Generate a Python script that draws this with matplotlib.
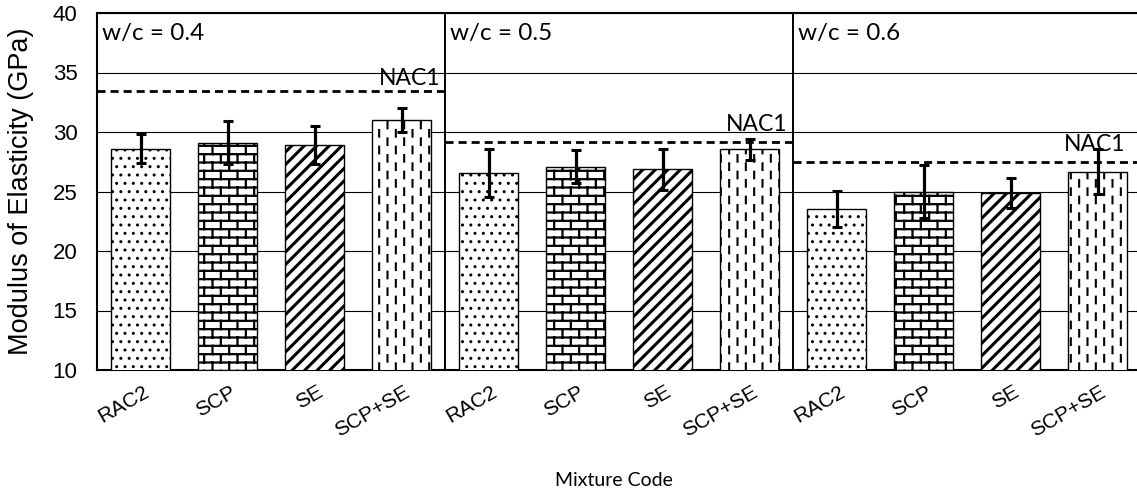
import warnings
import numpy as np
import matplotlib
matplotlib.use("Agg")
import matplotlib.pyplot as plt
from matplotlib import hatch as mhatch
from matplotlib.path import Path
from matplotlib.transforms import ScaledTranslation

warnings.filterwarnings("ignore")

# data
groups = ["w/c = 0.4", "w/c = 0.5", "w/c = 0.6"]
mixes = ["RAC2", "SCP", "SE", "SCP+SE"]
moe = {
    "RAC2":   [28.6, 26.55, 23.55],
    "SCP":    [29.1, 27.1, 25.0],
    "SE":     [28.9, 26.85, 24.85],
    "SCP+SE": [31.0, 28.55, 26.65],
}
moe_err = {
    "RAC2":   [1.2, 2.0, 1.5],
    "SCP":    [1.8, 1.4, 2.25],
    "SE":     [1.6, 1.7, 1.25],
    "SCP+SE": [1.0, 0.9, 1.9],
}
nac1 = [33.45, 29.2, 27.45]


# extra hatch patterns: bricks (B), diagonal stripes (S), dashed verticals (D)
class BrickHatch(mhatch.HatchPatternBase):
    def __init__(self, hatch, density):
        self.rows = 12 if "B" in hatch else 0
        self.cols = 6
        if self.rows:
            self.num_vertices = self.rows * 2 + (self.rows + 1) * self.cols * 2
        else:
            self.num_vertices = 0

    def set_vertices_and_codes(self, vertices, codes):
        k = 0
        h = 1.0 / self.rows
        for i in range(self.rows):
            y = (i + 0.5) * h
            vertices[k] = (0, y)
            vertices[k + 1] = (1, y)
            k += 2
        for i in range(-1, self.rows):
            y = (i + 0.5) * h
            off = 0.75 if i % 2 else 0.25
            for j in range(self.cols):
                x = (j + off) / self.cols
                vertices[k] = (x, y)
                vertices[k + 1] = (x, y + h)
                k += 2
        codes[0::2] = Path.MOVETO
        codes[1::2] = Path.LINETO


class StripeHatch(mhatch.HatchPatternBase):
    def __init__(self, hatch, density):
        self.num_lines = 16 if "S" in hatch else 0
        self.num_vertices = (self.num_lines + 1) * 2 if self.num_lines else 0

    def set_vertices_and_codes(self, vertices, codes):
        steps = np.linspace(-0.5, 0.5, self.num_lines + 1)
        vertices[0::2, 0] = 0.0 + steps
        vertices[0::2, 1] = 0.0 - steps
        vertices[1::2, 0] = 1.0 + steps
        vertices[1::2, 1] = 1.0 - steps
        codes[0::2] = Path.MOVETO
        codes[1::2] = Path.LINETO


class DashHatch(mhatch.HatchPatternBase):
    def __init__(self, hatch, density):
        self.cols = 12 if "D" in hatch else 0
        self.per = 6
        self.num_vertices = self.cols * (self.per + 1) * 2

    def set_vertices_and_codes(self, vertices, codes):
        k = 0
        half = 0.2 / self.per
        for j in range(self.cols):
            x = (j + 0.5) / self.cols
            off = 0.5 if j % 2 == 0 else 0.0
            for m in range(self.per + 1):
                yc = (m + off) / self.per
                vertices[k] = (x, yc - half)
                vertices[k + 1] = (x, yc + half)
                k += 2
        codes[0::2] = Path.MOVETO
        codes[1::2] = Path.LINETO


mhatch._hatch_types.extend([BrickHatch, StripeHatch, DashHatch])

hatches = {"RAC2": "..", "SCP": "B", "SE": "S", "SCP+SE": "D"}
hatch_lw = {"RAC2": 1.0, "SCP": 1.6, "SE": 2.2, "SCP+SE": 1.5}

SANS = ["Liberation Sans", "DejaVu Sans"]
CAL = ["Lato", "DejaVu Sans"]

fig = plt.figure(figsize=(11.37, 4.99), dpi=100)
ax = fig.add_axes([97 / 1137, 1 - 370 / 499, 1044 / 1137, 357 / 499])

n = len(mixes)
for i, mix in enumerate(mixes):
    xs = np.arange(len(groups)) * n + i
    plt.rcParams["hatch.linewidth"] = hatch_lw[mix]
    bars = ax.bar(xs, moe[mix], width=0.67, bottom=0, color="white",
                  edgecolor="black", linewidth=1.0, hatch=hatches[mix], zorder=3)
    for b in bars:
        if hasattr(b, "set_hatch_linewidth"):
            b.set_hatch_linewidth(hatch_lw[mix])
    ax.errorbar(xs, moe[mix], yerr=moe_err[mix], fmt="none", ecolor="black",
                elinewidth=2.3, capsize=3.8, capthick=2.2, zorder=4)

# NAC1 reference lines and group labels
nac_label_x = [3.45, 7.44, 11.32]
nac_label_dy = [0.5, 0.9, 0.95]
for g, label in enumerate(groups):
    x0, x1 = g * n - 0.5, g * n + n - 0.5
    ax.plot([x0, x1], [nac1[g], nac1[g]], color="black", lw=2.0,
            dashes=(2.9, 1.8), zorder=5)
    ax.text(nac_label_x[g], nac1[g] + nac_label_dy[g], "NAC1", ha="right",
            va="baseline", fontsize=16.5, family=CAL, zorder=6)
    ax.text(x0 + 0.06, 39.2, label, ha="left", va="top", fontsize=17.5,
            family=CAL, zorder=6)
    if g > 0:
        ax.axvline(x0, color="black", lw=1.4, zorder=5)

ax.set_xlim(-0.5, len(groups) * n - 0.5)
ax.set_ylim(10, 40)
ax.set_yticks(np.arange(10, 41, 5))
ax.yaxis.grid(True, color="black", lw=0.8, zorder=0)
ax.set_axisbelow(True)
for s in ["left", "bottom", "top"]:
    ax.spines[s].set_linewidth(1.5)
ax.spines["right"].set_visible(False)

ax.tick_params(axis="both", length=0)
ax.tick_params(axis="y", pad=14, labelsize=16)
for t in ax.get_yticklabels():
    t.set_fontfamily(SANS)

ax.set_xticks(np.arange(len(groups) * n))
ax.set_xticklabels(mixes * len(groups), rotation=30, ha="right",
                   rotation_mode="anchor", fontsize=15, family=SANS)
ax.tick_params(axis="x", pad=9)
shift = ScaledTranslation(2 / 100, 0, fig.dpi_scale_trans)
for t in ax.get_xticklabels():
    t.set_transform(t.get_transform() + shift)

ax.set_ylabel("Modulus of Elasticity (GPa)", fontsize=19.5, family=SANS)
ax.yaxis.set_label_coords(-0.06, 0.5)

fig.text(614 / 1137, 1 - 481 / 499, "Mixture Code", ha="center", va="center",
         fontsize=14, family=CAL)

fig.savefig("out.png", dpi=100)
